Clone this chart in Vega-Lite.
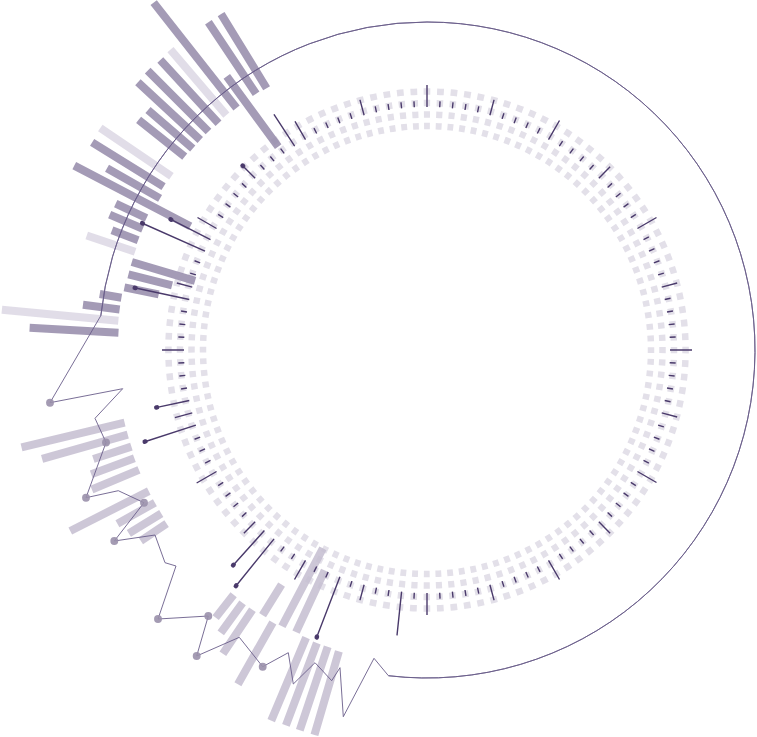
{
  "$schema": "https://vega.github.io/schema/vega-lite/v6.json",
  "width": 660,
  "height": 700,
  "autosize": "none",
  "padding": {"left": 97, "top": 0, "right": 0, "bottom": 37},
  "background": "white",
  "config": {"view": {"stroke": null}},
  "datasets": {
    "rings": [
      {"r": 224, "ring": "r1", "t0": -0.75, "t1": 359.25}, {"r": 235.5, "ring": "r2", "t0": -0.75, "t1": 359.25}, {"r": 247, "ring": "r3", "t0": -0.75, "t1": 359.25}, {"r": 258.5, "ring": "r4", "t0": -0.75, "t1": 359.25}
    ],
    "ticks": [
      {"a":0,"v":265},{"a":3,"v":249},{"a":6,"v":249},{"a":9,"v":249},{"a":12,"v":249},{"a":15,"v":259},{"a":18,"v":249},{"a":21,"v":249},{"a":24,"v":249},{"a":27,"v":249},
      {"a":30,"v":265},{"a":33,"v":249},{"a":36,"v":249},{"a":39,"v":249},{"a":42,"v":249},{"a":45,"v":259},{"a":48,"v":249},{"a":51,"v":249},{"a":54,"v":249},{"a":57,"v":249},
      {"a":60,"v":265},{"a":63,"v":249},{"a":66,"v":249},{"a":69,"v":249},{"a":72,"v":249},{"a":75,"v":259},{"a":78,"v":249},{"a":81,"v":249},{"a":84,"v":249},{"a":87,"v":249},
      {"a":90,"v":265},{"a":93,"v":249},{"a":96,"v":249},{"a":99,"v":249},{"a":102,"v":249},{"a":105,"v":259},{"a":108,"v":249},{"a":111,"v":249},{"a":114,"v":249},{"a":117,"v":249},
      {"a":120,"v":265},{"a":123,"v":249},{"a":126,"v":249},{"a":129,"v":249},{"a":132,"v":249},{"a":135,"v":259},{"a":138,"v":249},{"a":141,"v":249},{"a":144,"v":249},{"a":147,"v":249},
      {"a":150,"v":265},{"a":153,"v":249},{"a":156,"v":249},{"a":159,"v":249},{"a":162,"v":249},{"a":165,"v":259},{"a":168,"v":249},{"a":171,"v":249},{"a":174,"v":249},{"a":177,"v":249},
      {"a":180,"v":265},{"a":183,"v":249},{"a":186,"v":287},{"a":189,"v":249},{"a":192,"v":249},{"a":195,"v":259},{"a":198,"v":249},{"a":201,"v":307,"dot":1},{"a":204,"v":249},{"a":207,"v":249},
      {"a":210,"v":265},{"a":213,"v":249},{"a":216,"v":249},{"a":219,"v":303,"dot":1},{"a":222,"v":289,"dot":1},{"a":225,"v":259},{"a":228,"v":249},{"a":231,"v":249},{"a":234,"v":249},{"a":237,"v":249},
      {"a":240,"v":266},{"a":243,"v":249},{"a":246,"v":249},{"a":249,"v":249},{"a":252,"v":296,"dot":1},{"a":255,"v":261},{"a":258,"v":276,"dot":1},{"a":261,"v":249},{"a":264,"v":249},{"a":267,"v":249},
      {"a":270,"v":265},{"a":273,"v":249},{"a":276,"v":249},{"a":279,"v":249},{"a":282,"v":298,"dot":1},{"a":285,"v":259},{"a":288,"v":249},{"a":291,"v":249},{"a":294,"v":311,"dot":1},{"a":297,"v":287,"dot":1},
      {"a":300,"v":265},{"a":303,"v":249},{"a":306,"v":249},{"a":309,"v":249},{"a":312,"v":249},{"a":315,"v":260,"dot":1},{"a":318,"v":249},{"a":321,"v":249},{"a":324,"v":249},{"a":327,"v":281},
      {"a":330,"v":264},{"a":333,"v":249},{"a":336,"v":249},{"a":339,"v":249},{"a":342,"v":249},{"a":345,"v":259},{"a":348,"v":249},{"a":351,"v":249},{"a":354,"v":249},{"a":357,"v":249}
    ],
    "bars": [
      {"a":328.5,"r0":307,"r1":394,"c":"dark"},
      {"a":326.3,"r0":308,"r1":394,"c":"dark"},
      {"a":323.8,"r0":252,"r1":339,"c":"dark"},
      {"a":321.8,"r0":308,"r1":442,"c":"dark"},
      {"a":319.5,"r0":309,"r1":395,"c":"light"},
      {"a":317.4,"r0":308,"r1":394,"c":"dark"},
      {"a":315.0,"r0":309,"r1":395,"c":"dark"},
      {"a":312.8,"r0":309,"r1":394,"c":"dark"},
      {"a":310.7,"r0":309,"r1":368,"c":"dark"},
      {"a":308.6,"r0":310,"r1":369,"c":"dark"},
      {"a":304.2,"r0":309,"r1":395,"c":"light"},
      {"a":301.8,"r0":310,"r1":394,"c":"dark"},
      {"a":299.6,"r0":307,"r1":368,"c":"dark"},
      {"a":297.6,"r0":267,"r1":398,"c":"dark"},
      {"a":295.2,"r0":310,"r1":344,"c":"dark"},
      {"a":293.1,"r0":309,"r1":345,"c":"dark"},
      {"a":290.8,"r0":309,"r1":337,"c":"dark"},
      {"a":288.6,"r0":308,"r1":359,"c":"light"},
      {"a":286.6,"r0":242,"r1":308,"c":"dark"},
      {"a":284.2,"r0":263,"r1":308,"c":"dark"},
      {"a":281.7,"r0":274,"r1":309,"c":"dark"},
      {"a":279.7,"r0":310,"r1":332,"c":"dark"},
      {"a":277.5,"r0":310,"r1":347,"c":"dark"},
      {"a":275.4,"r0":310,"r1":427,"c":"light"},
      {"a":273.2,"r0":309,"r1":398,"c":"dark"},
      {"a":256.5,"r0":311,"r1":417,"c":"mid"},
      {"a":254.2,"r0":311,"r1":400,"c":"mid"},
      {"a":251.9,"r0":311,"r1":351,"c":"mid"},
      {"a":249.7,"r0":312,"r1":358,"c":"mid"},
      {"a":247.4,"r0":312,"r1":363,"c":"mid"},
      {"a":243.1,"r0":312,"r1":400,"c":"mid"},
      {"a":240.7,"r0":312,"r1":355,"c":"mid"},
      {"a":238.4,"r0":312,"r1":350,"c":"mid"},
      {"a":236.3,"r0":313,"r1":344,"c":"mid"},
      {"a":218.3,"r0":312,"r1":341,"c":"mid"},
      {"a":216.1,"r0":313,"r1":350,"c":"mid"},
      {"a":213.9,"r0":313,"r1":366,"c":"mid"},
      {"a":211.8,"r0":276,"r1":312,"c":"mid"},
      {"a":209.5,"r0":313,"r1":384,"c":"mid"},
      {"a":207.7,"r0":224,"r1":312,"c":"mid"},
      {"a":204.9,"r0":243,"r1":311,"c":"mid"},
      {"a":202.8,"r0":312,"r1":402,"c":"mid"},
      {"a":200.6,"r0":313,"r1":401,"c":"mid"},
      {"a":198.5,"r0":313,"r1":401,"c":"mid"},
      {"a":196.3,"r0":314,"r1":401,"c":"mid"}
    ],
    "circle": [
      {"a0": 276, "a1": 360, "r": 328}, {"a0": 0, "a1": 186.75, "r": 328}
    ],
    "line": [
      {"i":1,"x":-326.2,"y":34.3,"dot":0},
      {"i":2,"x":-377,"y":-52.7,"dot":1},
      {"i":3,"x":-304.3,"y":-38.7,"dot":0},
      {"i":4,"x":-332,"y":-68.3,"dot":0},
      {"i":5,"x":-321,"y":-92.5,"dot":1},
      {"i":6,"x":-341,"y":-147.7,"dot":1},
      {"i":7,"x":-308.7,"y":-140.7,"dot":0},
      {"i":8,"x":-283,"y":-152.7,"dot":1},
      {"i":9,"x":-312.7,"y":-191,"dot":1},
      {"i":10,"x":-272,"y":-185,"dot":0},
      {"i":11,"x":-262,"y":-212.7,"dot":0},
      {"i":12,"x":-251,"y":-216,"dot":0},
      {"i":13,"x":-269,"y":-269,"dot":1},
      {"i":14,"x":-218.7,"y":-266,"dot":1},
      {"i":15,"x":-230.3,"y":-306,"dot":1},
      {"i":16,"x":-187.7,"y":-287.3,"dot":0},
      {"i":17,"x":-164.3,"y":-316.7,"dot":1},
      {"i":18,"x":-138.7,"y":-302.7,"dot":0},
      {"i":19,"x":-133.7,"y":-334,"dot":0},
      {"i":20,"x":-112,"y":-312.7,"dot":0},
      {"i":21,"x":-95.3,"y":-330.7,"dot":0},
      {"i":22,"x":-87,"y":-317.7,"dot":0},
      {"i":23,"x":-83.7,"y":-366.7,"dot":0},
      {"i":24,"x":-53,"y":-308.3,"dot":0},
      {"i":25,"x":-38.6,"y":-325.7,"dot":0}
    ]
  },
  "layer": [
    {
      "data": {"name": "rings"},
      "transform": [{"filter": {"field": "ring", "equal": "r1"}}],
      "mark": {"type": "arc", "filled": false, "stroke": "#e3e0e9", "strokeWidth": 6.5, "strokeDash": [5.8643, 5.8643]},
      "encoding": {
        "theta": {"field": "t0", "type": "quantitative", "scale": {"type": "linear", "domain": [0, 360], "range": [0, 6.283185307179586]}},
        "theta2": {"field": "t1"},
        "radius": {"field": "r", "type": "quantitative", "scale": {"type": "linear", "domain": [0, 450], "range": [0, 450]}}
      }
    },
    {
      "data": {"name": "rings"},
      "transform": [{"filter": {"field": "ring", "equal": "r2"}}],
      "mark": {"type": "arc", "filled": false, "stroke": "#e3e0e9", "strokeWidth": 6.5, "strokeDash": [6.1654, 6.1654]},
      "encoding": {
        "theta": {"field": "t0", "type": "quantitative", "scale": {"type": "linear", "domain": [0, 360], "range": [0, 6.283185307179586]}},
        "theta2": {"field": "t1"},
        "radius": {"field": "r", "type": "quantitative", "scale": {"type": "linear", "domain": [0, 450], "range": [0, 450]}}
      }
    },
    {
      "data": {"name": "rings"},
      "transform": [{"filter": {"field": "ring", "equal": "r3"}}],
      "mark": {"type": "arc", "filled": false, "stroke": "#e3e0e9", "strokeWidth": 6.5, "strokeDash": [6.4665, 6.4665]},
      "encoding": {
        "theta": {"field": "t0", "type": "quantitative", "scale": {"type": "linear", "domain": [0, 360], "range": [0, 6.283185307179586]}},
        "theta2": {"field": "t1"},
        "radius": {"field": "r", "type": "quantitative", "scale": {"type": "linear", "domain": [0, 450], "range": [0, 450]}}
      }
    },
    {
      "data": {"name": "rings"},
      "transform": [{"filter": {"field": "ring", "equal": "r4"}}],
      "mark": {"type": "arc", "filled": false, "stroke": "#e3e0e9", "strokeWidth": 6.5, "strokeDash": [6.7675, 6.7675]},
      "encoding": {
        "theta": {"field": "t0", "type": "quantitative", "scale": {"type": "linear", "domain": [0, 360], "range": [0, 6.283185307179586]}},
        "theta2": {"field": "t1"},
        "radius": {"field": "r", "type": "quantitative", "scale": {"type": "linear", "domain": [0, 450], "range": [0, 450]}}
      }
    },
    {
      "data": {"name": "bars"},
      "mark": {"type": "arc", "filled": false, "strokeWidth": 8, "strokeJoin": "bevel", "opacity": 0.85},
      "encoding": {
        "theta": {"field": "a", "type": "quantitative", "scale": {"type": "linear", "domain": [0, 360], "range": [0, 6.283185307179586]}},
        "theta2": {"field": "a"},
        "radius": {"field": "r0", "type": "quantitative", "scale": {"type": "linear", "domain": [0, 450], "range": [0, 450]}},
        "radius2": {"field": "r1"},
        "stroke": {"field": "c", "type": "nominal", "legend": null,
          "scale": {"domain": ["dark", "light", "mid"], "range": ["#948aa9", "#dcd7e4", "#c4bdd0"]}}
      }
    },
    {
      "data": {"name": "ticks"},
      "mark": {"type": "arc", "filled": false, "stroke": "#4a3a6b", "strokeWidth": 1.4, "strokeJoin": "bevel"},
      "encoding": {
        "theta": {"field": "a", "type": "quantitative", "scale": {"type": "linear", "domain": [0, 360], "range": [0, 6.283185307179586]}},
        "theta2": {"field": "a"},
        "radius": {"field": "v", "type": "quantitative", "scale": {"type": "linear", "domain": [0, 450], "range": [0, 450]}},
        "radius2": {"datum": 243}
      }
    },
    {
      "data": {"name": "ticks"},
      "transform": [{"filter": {"field": "dot", "equal": 1}}],
      "mark": {"type": "arc", "filled": false, "stroke": "#4a3a6b", "strokeWidth": 4.5, "strokeJoin": "round", "radius2Offset": 0.8},
      "encoding": {
        "theta": {"field": "a", "type": "quantitative", "scale": {"type": "linear", "domain": [0, 360], "range": [0, 6.283185307179586]}},
        "theta2": {"field": "a"},
        "radius": {"field": "v", "type": "quantitative", "scale": {"type": "linear", "domain": [0, 450], "range": [0, 450]}},
        "radius2": {"field": "v"}
      }
    },
    {
      "data": {"name": "circle"},
      "mark": {"type": "arc", "filled": false, "stroke": "#6a5d8a", "strokeWidth": 0.9},
      "encoding": {
        "theta": {"field": "a0", "type": "quantitative", "scale": {"type": "linear", "domain": [0, 360], "range": [0, 6.283185307179586]}},
        "theta2": {"field": "a1"},
        "radius": {"field": "r", "type": "quantitative", "scale": {"type": "linear", "domain": [0, 450], "range": [0, 450]}},
        "radius2": {"field": "r"}
      }
    },
    {
      "data": {"name": "line"},
      "mark": {"type": "line", "stroke": "#6a5d8a", "strokeWidth": 0.9},
      "encoding": {
        "x": {"field": "x", "type": "quantitative", "axis": null, "scale": {"domain": [-330, 330], "nice": false, "zero": false}},
        "y": {"field": "y", "type": "quantitative", "axis": null, "scale": {"domain": [-350, 350], "nice": false, "zero": false}},
        "order": {"field": "i", "type": "quantitative"}
      }
    },
    {
      "data": {"name": "line"},
      "transform": [{"filter": {"field": "dot", "equal": 1}}],
      "mark": {"type": "point", "filled": true, "color": "#9a90ab", "size": 62, "opacity": 0.9},
      "encoding": {
        "x": {"field": "x", "type": "quantitative", "axis": null, "scale": {"domain": [-330, 330], "nice": false, "zero": false}},
        "y": {"field": "y", "type": "quantitative", "axis": null, "scale": {"domain": [-350, 350], "nice": false, "zero": false}}
      }
    }
  ]
}
